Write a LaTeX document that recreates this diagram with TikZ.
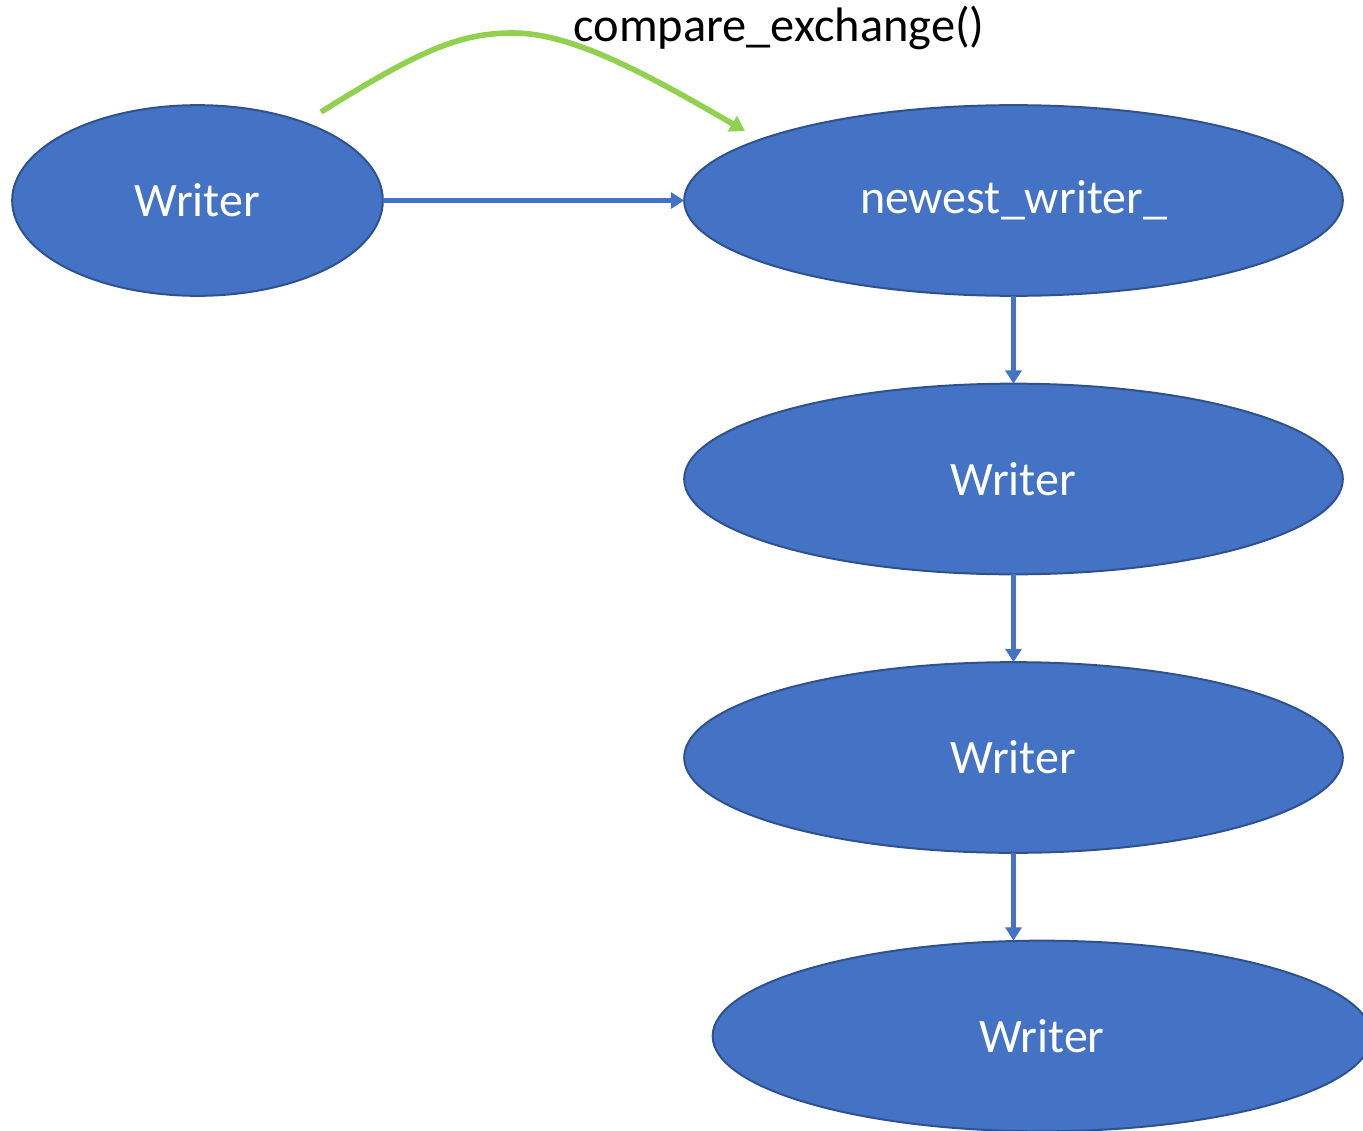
\documentclass[tikz,border=0pt]{standalone}
\usepackage{fontspec}
\setmainfont{Carlito}
\usetikzlibrary{shapes.geometric,arrows.meta}
\definecolor{nodefill}{HTML}{4472C4}
\definecolor{nodeline}{HTML}{2F528F}
\definecolor{casgreen}{HTML}{92D050}
\begin{document}
\begin{tikzpicture}[x=0.75pt,y=-0.75pt,
  writer/.style={ellipse, fill=nodefill, draw=nodeline, line width=1.5pt,
    inner sep=0pt, outer sep=0pt, text=white,
    font=\fontsize{36}{43}\selectfont},
  link/.style={draw=nodefill, line width=3.4pt,
    -{Triangle[length=10pt,width=12pt]}},
  casarrow/.style={draw=casgreen, line width=4.2pt,
    -{Triangle[length=11pt,width=13pt]}}]
\useasboundingbox (0,0) rectangle (1363,1131);

% list nodes
\node[writer, minimum width=278pt, minimum height=143pt] (w0) at (197.5,200.5) {Writer};
\node[writer, minimum width=494pt, minimum height=143pt] (head) at (1013.5,200.5) {newest\_writer\_};
\node[writer, minimum width=494pt, minimum height=143pt] (w1) at (1013.5,479) {Writer};
\node[writer, minimum width=494pt, minimum height=143pt] (w2) at (1013.5,757.5) {Writer};
\node[writer, minimum width=494pt, minimum height=143pt] (w3) at (1042,1036) {Writer};

% pointers
\draw[link] (w0.east) -- (head.west);
\draw[link] (head.south) -- (w1.north);
\draw[link] (w1.south) -- (w2.north);
\draw[link] (w2.south) -- (w3.north -| w2.south);

% atomic swap of the head pointer
\coordinate (casfrom) at (321,112);
\coordinate (casto) at (745,131);
\draw[casarrow] (casfrom) .. controls (420,50) and (460,33) .. (513,33)
  .. controls (570,33) and (640,70) .. (casto);
\node[inner sep=0pt, font=\fontsize{36.3}{43}\selectfont] (caslabel) at (779,28) {compare\_exchange()};
\end{tikzpicture}
\end{document}
